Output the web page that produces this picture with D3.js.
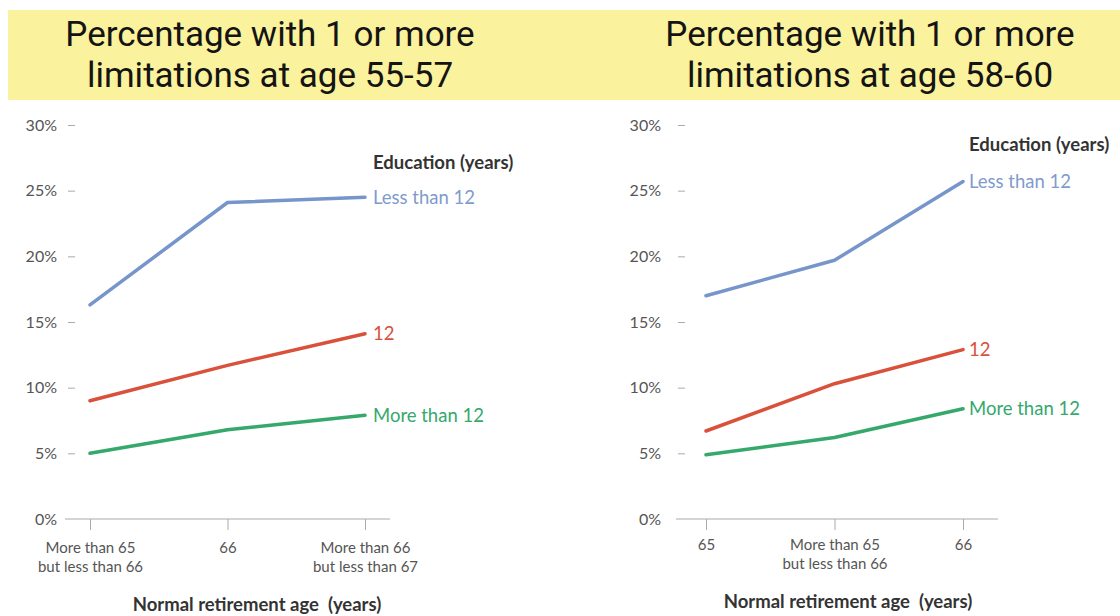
<!DOCTYPE html>
<html>
<head>
<meta charset="utf-8">
<script src="https://cdn.jsdelivr.net/npm/d3@7"></script>
<style>
  html, body { margin: 0; padding: 0; background: #fff; }
  svg { display: block; }
  .title { font-family: Roboto, "Liberation Sans", sans-serif; font-size: 35px; fill: #141414; }
  .y-axis .tick text { font-family: Lato, "Noto Sans", sans-serif; font-size: 16px; fill: #555; }
  .x-axis .tick text { font-family: Lato, "Noto Sans", sans-serif; font-size: 15px; fill: #555; }
  .axis-title { font-family: Lato, "Noto Sans", sans-serif; font-size: 18.5px; font-weight: 700; fill: #333; }
  .series-label { font-family: Lato, "Noto Sans", sans-serif; font-size: 18.5px; }
  .legend-title { font-family: Lato, "Noto Sans", sans-serif; font-size: 18.5px; font-weight: 700; fill: #333; }
</style>
</head>
<body>
<svg id="chart" width="1120" height="616"></svg>
<script>
// Share of people with one or more limitations, by normal retirement age and education
const seriesNames = ["Less than 12", "12", "More than 12"];
const seriesColors = ["#7595cb", "#d9503b", "#35a86c"];
const labelColors  = ["#7f9bcc", "#d9503b", "#35a86c"];

const leftTitle = ["Percentage with 1 or more", "limitations at age 55-57"];
const leftCategories = ["More than 65\nbut less than 66", "66", "More than 66\nbut less than 67"];
const leftLessThan12 = [16.3, 24.1, 24.5];
const leftTwelve     = [9.0, 11.7, 14.1];
const leftMoreThan12 = [5.0, 6.8, 7.9];

const rightTitle = ["Percentage with 1 or more", "limitations at age 58-60"];
const rightCategories = ["65", "More than 65\nbut less than 66", "66"];
const rightLessThan12 = [17.0, 19.7, 25.7];
const rightTwelve     = [6.7, 10.3, 12.9];
const rightMoreThan12 = [4.9, 6.2, 8.4];

const yTicks = [0, 5, 10, 15, 20, 25, 30];
const legendTitle = "Education (years)";
const xAxisTitle = "Normal retirement age\u00a0\u00a0(years)";

const svg = d3.select("#chart");

// Yellow title band across both panels
svg.append("rect")
  .attr("x", 8).attr("y", 10).attr("width", 1112).attr("height", 90)
  .attr("fill", "#fbf29d");

const y = d3.scaleLinear().domain([0, 30]).range([519, 125]);

const panels = [
  { title: leftTitle, cats: leftCategories, data: [leftLessThan12, leftTwelve, leftMoreThan12],
    titleX: 270, xRange: [90, 365], axisX: 75, base: [65, 390], labelPad: 11,
    labelX: 373, legendY: 163, xLabelY: 548, axisTitleX: 257, axisTitleY: 605 },
  { title: rightTitle, cats: rightCategories, data: [rightLessThan12, rightTwelve, rightMoreThan12],
    titleX: 870, xRange: [706, 963], axisX: 685, base: [676, 998], labelPad: 17,
    labelX: 969, legendY: 145, xLabelY: 545, axisTitleX: 848, axisTitleY: 602 }
];

panels.forEach(p => {
  const g = svg.append("g");

  // Two-line title
  const title = g.append("text").attr("class", "title").attr("text-anchor", "middle");
  p.title.forEach((ln, i) => {
    title.append("tspan")
      .attr("x", p.titleX).attr("y", 34 + i * 41).attr("dy", "0.35em")
      .text(ln);
  });

  const x = d3.scalePoint().domain(p.cats).range(p.xRange);

  // Y axis: short dashes plus percent labels
  const yAxis = g.append("g").attr("class", "y-axis")
    .attr("transform", `translate(${p.axisX},0)`)
    .call(d3.axisLeft(y).tickValues(yTicks).tickSize(7).tickPadding(p.labelPad)
      .tickFormat(d => d + "%"));
  yAxis.select(".domain").remove();
  yAxis.selectAll(".tick line").attr("stroke", "#aaa")
    .filter(d => d === 0).remove();

  // Baseline
  g.append("line")
    .attr("x1", p.base[0]).attr("x2", p.base[1])
    .attr("y1", y(0)).attr("y2", y(0))
    .attr("stroke", "#aaa").attr("stroke-width", 1);

  // X axis ticks and two-line category labels
  const xAxis = g.append("g").attr("class", "x-axis")
    .attr("transform", `translate(0,${y(0)})`)
    .call(d3.axisBottom(x).tickSize(11).tickFormat(""));
  xAxis.select(".domain").remove();
  xAxis.selectAll(".tick line").attr("stroke", "#aaa");
  xAxis.selectAll(".tick").each(function(d) {
    const lines = d.split("\n");
    const t = d3.select(this).append("text")
      .attr("text-anchor", "middle")
      .attr("fill", "#555");
    lines.forEach((ln, i) => {
      t.append("tspan").attr("x", 0)
        .attr("y", p.xLabelY - y(0) + i * 19)
        .attr("dy", "0.35em")
        .text(ln);
    });
  });

  // Axis title
  g.append("text").attr("class", "axis-title")
    .attr("x", p.axisTitleX).attr("y", p.axisTitleY).attr("dy", "0.35em")
    .attr("text-anchor", "middle")
    .text(xAxisTitle);

  // Lines with end labels
  const line = d3.line().x((d, i) => x(p.cats[i])).y(d => y(d));
  p.data.forEach((vals, si) => {
    g.append("path")
      .attr("d", line(vals))
      .attr("fill", "none")
      .attr("stroke", seriesColors[si])
      .attr("stroke-width", 3.5)
      .attr("stroke-linejoin", "round")
      .attr("stroke-linecap", "round");

    g.append("text").attr("class", "series-label")
      .attr("x", p.labelX).attr("y", y(vals[vals.length - 1])).attr("dy", "0.35em")
      .attr("fill", labelColors[si])
      .text(seriesNames[si]);
  });

  // Legend heading
  g.append("text").attr("class", "legend-title")
    .attr("x", p.labelX).attr("y", p.legendY).attr("dy", "0.35em")
    .text(legendTitle);
});
</script>
</body>
</html>
